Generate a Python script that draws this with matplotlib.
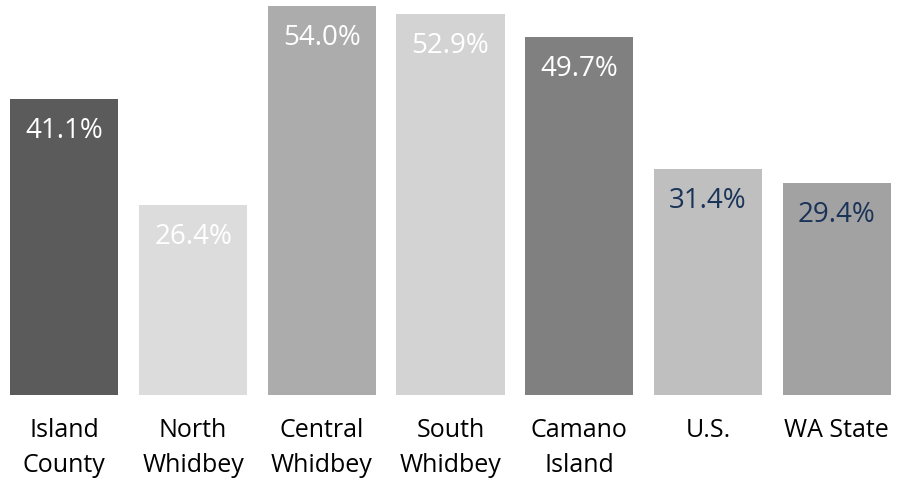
import numpy as np
import matplotlib.pyplot as plt

plt.rcParams['font.family'] = ['Open Sans', 'DejaVu Sans']

# data
categories = ['Island\nCounty', 'North\nWhidbey', 'Central\nWhidbey', 'South\nWhidbey',
              'Camano\nIsland', 'U.S.', 'WA State']
values = [41.1, 26.4, 54.0, 52.9, 49.7, 31.4, 29.4]
bar_colors = ['#5b5b5b', '#dcdcdc', '#acacac', '#d3d3d3', '#808080', '#bfbfbf', '#a2a2a2']
label_colors = ['white', 'white', 'white', 'white', 'white', '#1a3358', '#1a3358']

fig = plt.figure(figsize=(9.01, 4.81), dpi=100)
ax = fig.add_axes([0.0, 1 - 396 / 481, 1.0, 396 / 481])

x = np.arange(len(categories))
bars = ax.bar(x, values, width=0.84, color=bar_colors)

# value labels inside the bars, near the top
for xi, v, c in zip(x, values, label_colors):
    ax.annotate('%.1f%%' % v, (xi, v), xytext=(0, -12), textcoords='offset points',
                ha='center', va='top', fontsize=20, color=c)

ax.set_xlim(-0.5, len(categories) - 0.5)
ax.set_ylim(0, 55)
ax.set_xticks(x)
ax.set_xticklabels(categories, fontsize=18, linespacing=1.5)
ax.tick_params(axis='x', length=0, pad=16)
ax.set_yticks([])
for s in ax.spines.values():
    s.set_visible(False)

plt.savefig('out.png', dpi=100)
